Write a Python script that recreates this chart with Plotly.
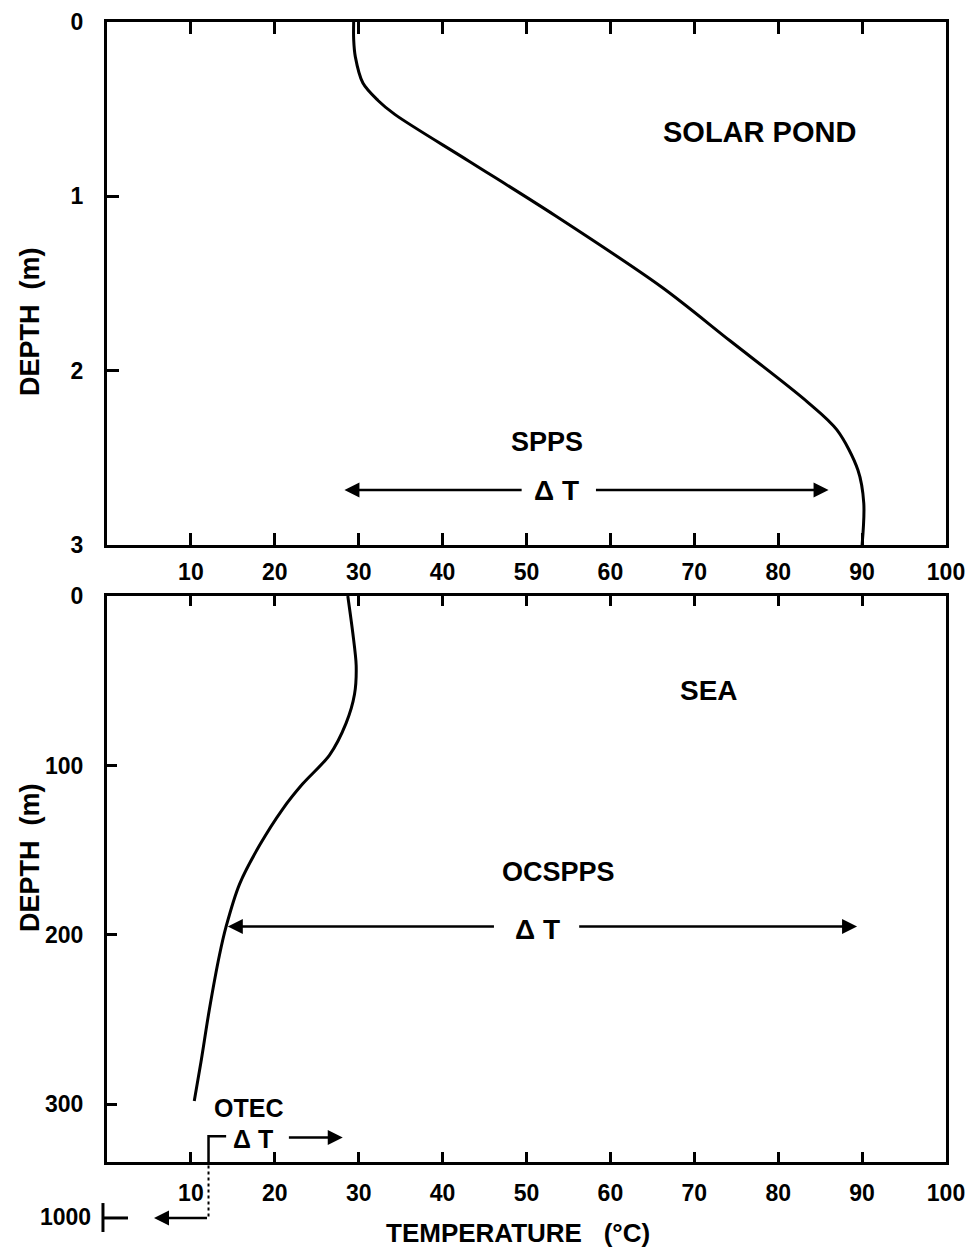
import plotly.graph_objects as go

# ---- data ----
pond_temp = [29.4, 29.4, 29.6, 30.5, 32.3, 34.3, 43.2, 53.4, 66.1, 74.3, 83.5, 87.0, 89.5, 90.2, 90.0]
pond_depth = [0.0, 0.10, 0.20, 0.35, 0.45, 0.53, 0.80, 1.11, 1.52, 1.83, 2.18, 2.34, 2.57, 2.76, 3.0]

sea_temp = [28.7, 29.3, 29.7, 29.5, 28.5, 26.5, 23.3, 20.9, 18.2, 15.8, 14.2, 13.4, 12.2, 11.2, 10.4]
sea_depth = [0, 22, 41, 58, 75, 94, 111, 126, 147, 170, 195, 212, 244, 275, 298]

temp_ticks = [10, 20, 30, 40, 50, 60, 70, 80, 90, 100]
pond_depth_ticks = [0, 1, 2, 3]
sea_depth_ticks = [0, 100, 200, 300]
pond_range = [3, 0]
sea_range = [334, 0]

# SPPS delta-T (top panel) and OCSPPS / OTEC delta-T (bottom panel)
spps_dt = dict(left=28.3, right=86.0, depth=2.685, gap_l=49.6, gap_r=58.1, text=53.6)
ocspps_dt = dict(left=14.4, right=89.4, depth=195, gap_l=46.3, gap_r=56.1, text=51.3)
otec_cold_temp = 12.1
otec_dt = dict(bracket_end=14.2, depth=319.5, text=17.4, arrow_from=21.5, arrow_to=28.1)

FONT = "Liberation Sans"
BLACK = "black"


def fnt(size):
    return dict(family=FONT, size=size, color=BLACK, weight="bold")


fig = go.Figure()
fig.add_trace(go.Scatter(x=pond_temp, y=pond_depth, mode="lines",
                         line=dict(color=BLACK, width=3, shape="spline", smoothing=0.9),
                         xaxis="x", yaxis="y", showlegend=False, hoverinfo="skip"))
fig.add_trace(go.Scatter(x=sea_temp, y=sea_depth, mode="lines",
                         line=dict(color=BLACK, width=3, shape="spline", smoothing=0.8),
                         xaxis="x2", yaxis="y2", showlegend=False, hoverinfo="skip"))

ax_common = dict(showgrid=False, zeroline=False, showline=True, linecolor=BLACK, linewidth=3,
                 ticks="inside", tickcolor=BLACK, tickwidth=2.5, tickfont=fnt(23))

# page body has an 8px margin, so the figure is sized 16px smaller than the window
fig.update_layout(
    width=958, height=1242, template="none",
    paper_bgcolor="white", plot_bgcolor="white",
    margin=dict(l=99, r=20, t=14, b=88),
    showlegend=False,
    xaxis=dict(ax_common, domain=[0, 1], range=[0, 100], anchor="y", tickvals=temp_ticks,
               mirror="ticks", ticklen=12, ticklabelstandoff=4),
    yaxis=dict(ax_common, domain=[0.5412, 1], range=pond_range, anchor="x",
               tickvals=pond_depth_ticks, mirror=True, ticklen=12, ticklabelstandoff=16),
    xaxis2=dict(ax_common, domain=[0, 1], range=[0, 100], anchor="y2", tickvals=temp_ticks,
                mirror="ticks", ticklen=10, ticklabelstandoff=8),
    yaxis2=dict(ax_common, domain=[0, 0.4965], range=sea_range, anchor="x2",
                tickvals=sea_depth_ticks, mirror=True, ticklen=10, ticklabelstandoff=16),
)


def label(text, x, y, xref, yref, size, **kw):
    d = dict(text=text, x=x, y=y, xref=xref, yref=yref, showarrow=False, font=fnt(size),
             xanchor="center", yanchor="middle")
    d.update(kw)
    return d


def arrow(x_tail, x_head, y, xref, yref):
    return dict(x=x_head, y=y, ax=x_tail, ay=y, xref=xref, yref=yref, axref=xref, ayref=yref,
                showarrow=True, text="", arrowhead=2, arrowsize=1.2, arrowwidth=2.5,
                arrowcolor=BLACK, standoff=0, startstandoff=0)


ann = [
    label("SOLAR POND", 77.8, 0.63, "x", "y", 29),
    label("SPPS", 52.5, 2.41, "x", "y", 27),
    label("Δ T", spps_dt["text"], spps_dt["depth"], "x", "y", 28),
    arrow(spps_dt["gap_l"], spps_dt["left"], spps_dt["depth"], "x", "y"),
    arrow(spps_dt["gap_r"], spps_dt["right"], spps_dt["depth"], "x", "y"),

    label("SEA", 71.8, 55.6, "x2", "y2", 28),
    label("OCSPPS", 53.8, 162.6, "x2", "y2", 27),
    label("Δ T", ocspps_dt["text"], ocspps_dt["depth"] + 2, "x2", "y2", 28),
    arrow(ocspps_dt["gap_l"], ocspps_dt["left"], ocspps_dt["depth"], "x2", "y2"),
    arrow(ocspps_dt["gap_r"], ocspps_dt["right"], ocspps_dt["depth"], "x2", "y2"),

    label("OTEC", 16.9, 302, "x2", "y2", 25),
    label("Δ T", otec_dt["text"], otec_dt["depth"] + 1, "x2", "y2", 25),
    arrow(otec_dt["arrow_from"], otec_dt["arrow_to"], otec_dt["depth"], "x2", "y2"),

    # arrow below the axis to the 1000 m broken-axis mark
    dict(x=5.6, y=-0.0491, xref="x2", yref="paper", ax=otec_cold_temp, ay=0,
         axref="x2", ayref="pixel", showarrow=True, text="", arrowhead=2, arrowsize=1.2,
         arrowwidth=2.5, arrowcolor=BLACK, standoff=0, startstandoff=0),
    label("1000", -0.0167, -0.0482, "paper", "paper", 23, xanchor="right"),

    label("TEMPERATURE   (°C)", 0.49, -0.0625, "paper", "paper", 26),
    label("DEPTH  (m)", -0.0918, 0.7377, "paper", "paper", 27, textangle=-90),
    label("DEPTH  (m)", -0.0918, 0.2675, "paper", "paper", 27, textangle=-90),
]
fig.update_layout(annotations=ann)

shapes = [
    # OTEC bracket
    dict(type="path", xref="x2", yref="y2",
         path=f"M {otec_cold_temp},{sea_range[0]} L {otec_cold_temp},{otec_dt['depth'] - 0.7} "
              f"L {otec_dt['bracket_end']},{otec_dt['depth'] - 0.7}",
         line=dict(color=BLACK, width=2.5)),
    # dotted continuation below axis
    dict(type="line", xref="x2", yref="paper", x0=otec_cold_temp, x1=otec_cold_temp,
         y0=-0.003, y1=-0.0505, line=dict(color=BLACK, width=2, dash="dot")),
    # broken axis mark at 1000 m
    dict(type="line", xref="paper", yref="paper", x0=-0.0048, x1=-0.0048, y0=-0.036, y1=-0.0614,
         line=dict(color=BLACK, width=3)),
    dict(type="line", xref="paper", yref="paper", x0=-0.0048, x1=0.025, y0=-0.0491, y1=-0.0491,
         line=dict(color=BLACK, width=3)),
]
fig.update_layout(shapes=shapes)

fig.write_html("out.html")
